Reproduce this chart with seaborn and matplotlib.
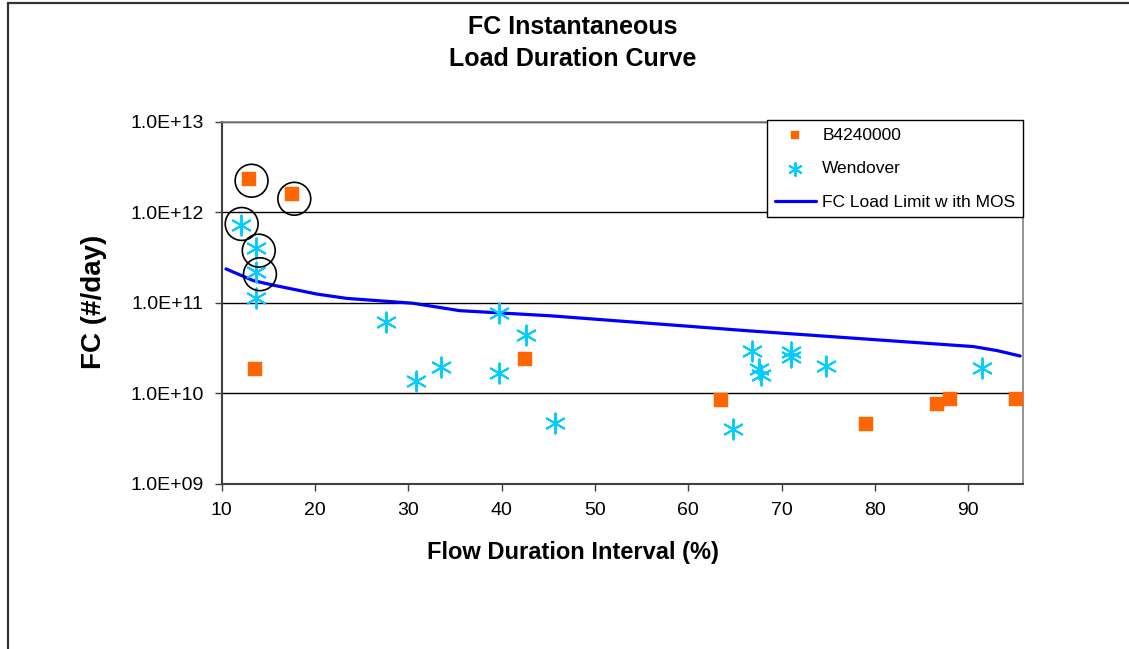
import numpy as np
import pandas as pd
import matplotlib
matplotlib.use("Agg")
import matplotlib.pyplot as plt
from matplotlib.patches import Rectangle
from matplotlib.ticker import FixedLocator, FuncFormatter, NullLocator
import seaborn as sns

# ---------------- data ----------------
b42_x = [12.96, 17.5, 13.54, 42.5, 63.5, 79.0, 86.6, 88.06, 95.1]
b42_y = [2.31e12, 1.58e12, 1.85e10, 2.38e10, 8.4e9, 4.6e9, 7.66e9, 8.7e9, 8.7e9]

wen_x = [12.04, 13.64, 13.64, 13.64, 27.58, 30.83, 33.54, 39.72, 39.72, 42.58,
         45.7, 64.77, 66.8, 67.6, 67.8, 71.0, 71.0, 74.77, 91.46]
wen_y = [7.24e11, 4.07e11, 2.18e11, 1.12e11, 6.2e10, 1.37e10, 1.95e10, 7.7e10, 1.7e10, 4.39e10,
         4.7e9, 4.06e9, 2.97e10, 1.85e10, 1.6e10, 2.9e10, 2.5e10, 2.03e10, 1.93e10]

lim_x = [10.46, 13.39, 15.5, 20.2, 23.4, 30.5, 35.5, 45.2, 66.6, 90.56, 93.1, 95.56]
lim_y = [2.37e11, 1.76e11, 1.57e11, 1.25e11, 1.12e11, 9.9e10, 8.2e10, 7.2e10, 4.9e10,
         3.29e10, 2.97e10, 2.59e10]

circ_x = [13.2, 17.78, 12.14, 13.97, 14.1]
circ_y = [2.23e12, 1.41e12, 7.43e11, 3.77e11, 2.07e11]

x_ticks = [10, 20, 30, 40, 50, 60, 70, 80, 90]
y_ticks = [1e9, 1e10, 1e11, 1e12, 1e13]

title_text = "FC Instantaneous\nLoad Duration Curve"
xlabel_text = "Flow Duration Interval (%)"
ylabel_text = "FC (#/day)"
series_names = ["B4240000", "Wendover", "FC Load Limit w ith MOS"]

# ---------------- style ----------------
sns.set_theme(style="white")
plt.rcParams["font.family"] = ["Liberation Sans", "DejaVu Sans"]
plt.rcParams["text.color"] = "black"
plt.rcParams["axes.labelcolor"] = "black"
plt.rcParams["xtick.color"] = "black"
plt.rcParams["ytick.color"] = "black"

W, H = 1129, 649
fig = plt.figure(figsize=(W / 100, H / 100), dpi=100)
ax = fig.add_axes([221.7 / W, 1 - 484 / H, (1023.3 - 221.7) / W, (484 - 121.7) / H])

df_b = pd.DataFrame({"x": b42_x, "y": b42_y})
df_w = pd.DataFrame({"x": wen_x, "y": wen_y})
df_l = pd.DataFrame({"x": lim_x, "y": lim_y})
df_c = pd.DataFrame({"x": circ_x, "y": circ_y})

ax.set_yscale("log")

sns.scatterplot(data=df_b, x="x", y="y", ax=ax, marker="s", s=95,
                color="#FF6600", edgecolor="#FF6600", linewidth=0.3,
                label=series_names[0], zorder=4)
sns.scatterplot(data=df_w, x="x", y="y", ax=ax, marker=(6, 2, 0), s=210,
                color="#00CCFF", linewidth=1.4,
                label=series_names[1], zorder=4)
sns.lineplot(data=df_l, x="x", y="y", ax=ax, color="#0000FF", linewidth=2.3,
             label=series_names[2], zorder=3, estimator=None, sort=False)
sns.scatterplot(data=df_c, x="x", y="y", ax=ax, marker="o", s=560,
                facecolor="none", edgecolor="black", linewidth=1.2,
                zorder=5, legend=False)

ax.set_xlim(10, 95.9)
ax.set_ylim(1e9, 1e13)

ax.xaxis.set_major_locator(FixedLocator(x_ticks))
ax.yaxis.set_major_locator(FixedLocator(y_ticks))
ax.yaxis.set_minor_locator(NullLocator())
ax.xaxis.set_minor_locator(NullLocator())
ax.yaxis.set_major_formatter(FuncFormatter(lambda v, p: f"{v:.1E}"))
ax.xaxis.set_major_formatter(FuncFormatter(lambda v, p: f"{v:.0f}"))

ax.tick_params(axis="both", which="major", direction="out", length=5, width=1,
               color="#404040", labelsize=14, labelcolor="black", pad=8)
ax.tick_params(axis="x", bottom=True)
ax.tick_params(axis="y", left=True)

ax.grid(False)
ax.yaxis.grid(True, color="black", linewidth=1)
ax.set_axisbelow(True)

for side in ["left", "bottom"]:
    ax.spines[side].set_color("#404040")
    ax.spines[side].set_linewidth(1.5)
for side in ["right", "top"]:
    ax.spines[side].set_color("#808080")
    ax.spines[side].set_linewidth(1.2)

ax.set_xlabel("")
ax.set_ylabel("")

fig.text(573 / W, 1 - 553 / H, xlabel_text, ha="center", va="center",
         fontsize=17, fontweight="bold", color="black")
fig.text(94 / W, 1 - 302 / H, ylabel_text, ha="center", va="center",
         rotation=90, fontsize=20, fontweight="bold", color="black")
fig.text(573 / W, 1 - 43 / H, title_text, ha="center", va="center",
         fontsize=18, fontweight="bold", linespacing=1.45, color="black")

# legend
handles, labels = ax.get_legend_handles_labels()
order = [labels.index(n) for n in series_names]
leg = ax.legend([handles[i] for i in order], [labels[i] for i in order],
                loc="upper right", bbox_to_anchor=(1.0, 1.005),
                fontsize=12.5, frameon=True, fancybox=False, shadow=False,
                framealpha=1, edgecolor="black", borderpad=0.45,
                labelspacing=1.05, handlelength=2.4, handletextpad=0.35,
                markerscale=0.65, borderaxespad=0)
leg.get_frame().set_linewidth(1.0)
leg.set_zorder(10)
for t in leg.get_texts():
    t.set_color("black")

# outer chart frame
fig.patches.append(Rectangle((7.5 / W, -0.1), 1.2, 1 - 3 / H + 0.1,
                             transform=fig.transFigure, fill=False,
                             edgecolor="#333333", linewidth=1.6, clip_on=False))

fig.savefig("out.png", dpi=100, facecolor="white")
